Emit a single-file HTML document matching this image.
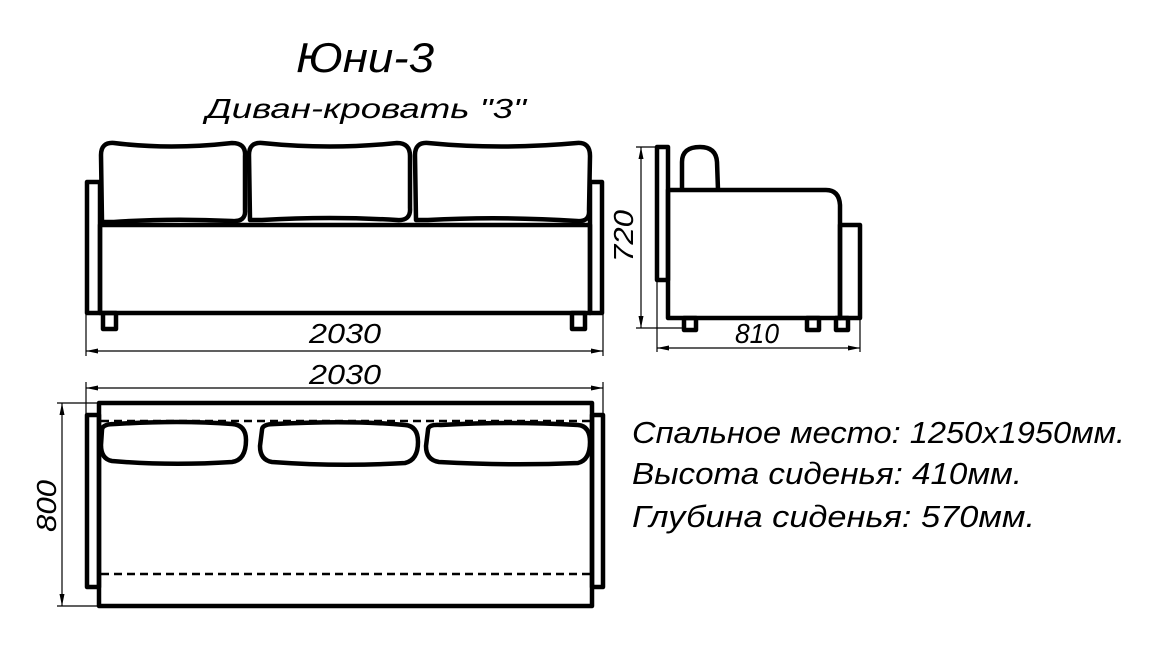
<!DOCTYPE html>
<html><head><meta charset="utf-8"><style>
html,body{margin:0;padding:0;background:#fff;}
svg{display:block;}
text{font-family:"Liberation Sans",sans-serif;font-style:italic;fill:#000;}
</style></head><body>
<svg width="1152" height="649" viewBox="0 0 1152 649" xmlns="http://www.w3.org/2000/svg">
<g fill="none" stroke="#000" stroke-linejoin="round">
<!-- FRONT VIEW -->
<g stroke-width="4.5">
<rect x="87" y="182" width="13" height="131"/>
<rect x="590" y="182" width="12" height="131"/>
<rect x="100" y="225" width="490" height="88"/>
<path d="M102,222 L101,155 Q101,142 114,143 Q170,150 232,143 Q246,143 245,156 L245,210 Q246,222 232,221 Q170,218 114,222 Z"/>
<path d="M250,220 L249,155 Q249,142 262,143 Q330,150 397,143 Q410,143 410,156 L410,208 Q411,221 397,220 Q330,216 262,220 Z"/>
<path d="M416,220 L415,155 Q415,142 428,143 Q500,150 577,143 Q590,142 590,156 L589,210 Q590,222 577,221 Q500,216 428,220 Z"/>
<rect x="103" y="313" width="13" height="16"/>
<rect x="572" y="313" width="13" height="16"/>
</g>
<g stroke-width="1.2">
<line x1="86" y1="313" x2="86" y2="356"/>
<line x1="603" y1="313" x2="603" y2="356"/>
<line x1="86" y1="351" x2="603" y2="351"/>
</g>
<!-- SIDE VIEW -->
<g stroke-width="4.5">
<rect x="657" y="147" width="11" height="133"/>
<path d="M682,190 L682,162 Q682,147 700,147 Q716,147 717,162 L718,190"/>
<path d="M668,190 L826,190 Q839,190 840,205 L840,318 L668,318 Z"/>
<rect x="840" y="225" width="20" height="93"/>
<rect x="684" y="318" width="12" height="12"/>
<rect x="807" y="318" width="12" height="12"/>
<rect x="836" y="318" width="12" height="12"/>
</g>
<g stroke-width="1.2">
<line x1="636" y1="147" x2="657" y2="147"/>
<line x1="636" y1="328" x2="684" y2="328"/>
<line x1="641" y1="147" x2="641" y2="328"/>
<line x1="657" y1="280" x2="657" y2="352"/>
<line x1="860" y1="318" x2="860" y2="352"/>
<line x1="657" y1="348" x2="860" y2="348"/>
</g>
<!-- TOP VIEW -->
<g stroke-width="4.5">
<rect x="99" y="403" width="493" height="203"/>
<rect x="87" y="415" width="12" height="172"/>
<rect x="592" y="415" width="11" height="172"/>
<path d="M102,430 Q102,424 115,424 Q180,420 232,424 Q246,425 246,440 Q246,460 232,462 Q170,466 112,461 Q101,459 101,445 Z"/>
<path d="M262,430 Q262,424 275,424 Q350,420 405,425 Q418,426 418,442 Q418,460 405,463 Q340,467 272,462 Q260,460 260,446 Z"/>
<path d="M428,430 Q428,424 441,425 Q510,421 578,425 Q590,426 590,442 Q590,460 578,463 Q510,466 439,462 Q426,460 426,446 Z"/>
</g>
<g stroke-width="2.5" stroke-dasharray="8,5">
<line x1="101" y1="421" x2="590" y2="421"/>
<line x1="101" y1="574" x2="590" y2="574"/>
</g>
<g stroke-width="1.2">
<line x1="86" y1="382" x2="86" y2="415"/>
<line x1="603" y1="382" x2="603" y2="415"/>
<line x1="86" y1="388" x2="603" y2="388"/>
<line x1="57" y1="403" x2="99" y2="403"/>
<line x1="57" y1="606" x2="99" y2="606"/>
<line x1="62" y1="403" x2="62" y2="606"/>
</g>
</g>
<!-- arrowheads -->
<g fill="#000">
<path d="M86,351 l12,-2.5 l0,5z M603,351 l-12,-2.5 l0,5z"/>
<path d="M86,388 l12,-2.5 l0,5z M603,388 l-12,-2.5 l0,5z"/>
<path d="M657,348 l12,-2.5 l0,5z M860,348 l-12,-2.5 l0,5z"/>
<path d="M641,147 l-2.5,12 l5,0z M641,328 l-2.5,-12 l5,0z"/>
<path d="M62,403 l-2.5,12 l5,0z M62,606 l-2.5,-12 l5,0z"/>
</g>
<!-- TEXT -->
<text x="296" y="72" font-size="42" textLength="138" lengthAdjust="spacingAndGlyphs">Юни-3</text>
<text x="206" y="118" font-size="28" textLength="320" lengthAdjust="spacingAndGlyphs">Диван-кровать "3"</text>
<text x="309" y="343" font-size="28" textLength="72" lengthAdjust="spacingAndGlyphs">2030</text>
<text x="309" y="384" font-size="28" textLength="72" lengthAdjust="spacingAndGlyphs">2030</text>
<text x="735" y="343" font-size="28" textLength="44" lengthAdjust="spacingAndGlyphs">810</text>
<text transform="translate(633,262) rotate(-90)" font-size="28" textLength="52" lengthAdjust="spacingAndGlyphs">720</text>
<text transform="translate(56,532) rotate(-90)" font-size="28" textLength="52" lengthAdjust="spacingAndGlyphs">800</text>
<text x="632" y="443" font-size="31" textLength="493" lengthAdjust="spacingAndGlyphs">Спальное место: 1250x1950мм.</text>
<text x="632" y="484" font-size="31" textLength="390" lengthAdjust="spacingAndGlyphs">Высота сиденья: 410мм.</text>
<text x="632" y="527" font-size="31" textLength="403" lengthAdjust="spacingAndGlyphs">Глубина сиденья: 570мм.</text>
</svg>
</body></html>
